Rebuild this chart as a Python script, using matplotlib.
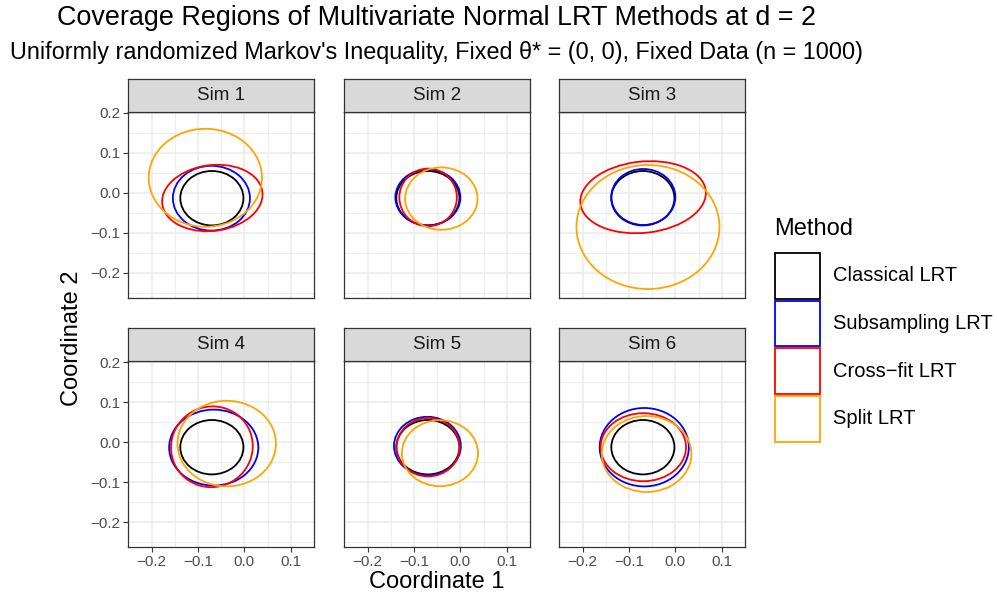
import numpy as np
import matplotlib
matplotlib.use("Agg")
import matplotlib.pyplot as plt
from matplotlib.patches import Ellipse, Rectangle

plt.rcParams['font.family'] = ['Liberation Sans', 'DejaVu Sans']

# data: ellipse (center x, center y, semi-axis a, semi-axis b, angle deg) per sim and method
methods = ["Classical LRT", "Subsampling LRT", "Cross\u2212fit LRT", "Split LRT"]
colors = ["black", "blue", "red", "orange"]
sims = ["Sim 1", "Sim 2", "Sim 3", "Sim 4", "Sim 5", "Sim 6"]

classical = [(-0.070, -0.013, 0.068, 0.068, 0)] * 6
subsampling = [(-0.071, -0.013, 0.083, 0.081, 0),
               (-0.070, -0.011, 0.070, 0.070, 0),
               (-0.069, -0.010, 0.069, 0.070, 0),
               (-0.066, -0.014, 0.096, 0.095, 0),
               (-0.071, -0.010, 0.072, 0.073, 0),
               (-0.067, -0.013, 0.096, 0.098, 0)]
crossfit = [(-0.069, -0.0125, 0.109, 0.082, 11),
            (-0.0695, -0.011, 0.062, 0.072, 0),
            (-0.0695, -0.0105, 0.136, 0.089, 8),
            (-0.070, -0.012, 0.088, 0.101, -4),
            (-0.0695, -0.013, 0.068, 0.073, 0),
            (-0.069, -0.013, 0.092, 0.085, 0)]
split = [(-0.084, 0.038, 0.122, 0.1225, 0),
         (-0.041, -0.014, 0.078, 0.078, 0),
         (-0.059, -0.085, 0.154, 0.155, 0),
         (-0.038, -0.004, 0.106, 0.107, 0),
         (-0.044, -0.028, 0.082, 0.0825, 0),
         (-0.062, -0.030, 0.0965, 0.095, 0)]
all_methods = [classical, subsampling, crossfit, split]

xticks = [-0.2, -0.1, 0.0, 0.1]
yticks = [-0.2, -0.1, 0.0, 0.1, 0.2]

W, H = 997, 599
fig = plt.figure(figsize=(W / 100, H / 100), dpi=100)


def box(l, t, r, b):
    return [l / W, 1 - b / H, (r - l) / W, (b - t) / H]


cols = [(128.3, 314.0), (344.3, 530.0), (559.3, 745.0)]
rows = [(112.0, 298.0, 78.5), (361.0, 547.0, 327.7)]
lab = lambda v: ("%.1f" % v).replace("-", "\u2212")

for i, s in enumerate(sims):
    r, c = divmod(i, 3)
    l, rr = cols[c]
    t, b, st = rows[r]
    ax = fig.add_axes(box(l, t, rr, b))
    ax.set_xlim(-0.248, 0.147)
    ax.set_ylim(-0.2625, 0.2025)
    ax.set_xticks(xticks)
    ax.set_yticks(yticks)
    ax.set_xticks([-0.25, -0.15, -0.05, 0.05, 0.15], minor=True)
    ax.set_yticks([-0.25, -0.15, -0.05, 0.05, 0.15], minor=True)
    ax.grid(True, which='major', color='#EBEBEB', lw=1.1)
    ax.grid(True, which='minor', color='#EBEBEB', lw=0.6)
    ax.set_axisbelow(True)
    ax.tick_params(which='minor', length=0)
    ax.tick_params(which='major', length=3.5, width=0.8, color='#333333',
                   labelsize=11, labelcolor='#4D4D4D', pad=2)
    if r == 1:
        ax.set_xticklabels([lab(v) for v in xticks])
    else:
        ax.set_xticklabels([])
        ax.tick_params(axis='x', length=0)
    if c == 0:
        ax.set_yticklabels([lab(v) for v in yticks])
    else:
        ax.set_yticklabels([])
        ax.tick_params(axis='y', length=0)
    for sp in ax.spines.values():
        sp.set_color('#333333')
        sp.set_linewidth(0.9)
    for m, col in zip(all_methods, colors):
        cx, cy, a, bb, ang = m[i]
        ax.add_patch(Ellipse((cx, cy), 2 * a, 2 * bb, angle=ang, fill=False,
                             edgecolor=col, lw=1.3))
    sax = fig.add_axes(box(l, st, rr, t))
    sax.set_facecolor('#D9D9D9')
    sax.set_xticks([])
    sax.set_yticks([])
    for sp in sax.spines.values():
        sp.set_color('#333333')
        sp.set_linewidth(0.9)
    sax.text(0.5, 0.5, s, ha='center', va='center', fontsize=13.6,
             color='#1A1A1A', transform=sax.transAxes)

fig.text(436.5 / W, 1 - 18 / H, "Coverage Regions of Multivariate Normal LRT Methods at d = 2",
         ha='center', va='center', fontsize=19.4)
fig.text(436.5 / W, 1 - 52 / H, "Uniformly randomized Markov's Inequality, Fixed \u03b8* = (0, 0), Fixed Data (n = 1000)",
         ha='center', va='center', fontsize=16.8)
fig.text(436.5 / W, 1 - 582 / H, "Coordinate 1", ha='center', va='center', fontsize=17)
fig.text(72 / W, 1 - 338 / H, "Coordinate 2", ha='center', va='center',
         rotation=90, fontsize=17)

# legend
lax = fig.add_axes([0, 0, 1, 1])
lax.set_xlim(0, W)
lax.set_ylim(H, 0)
lax.axis('off')
lax.text(774, 229, "Method", ha='left', va='center', fontsize=17)
key_top = 251.7
key_h = 47.8
for k, (m, col) in enumerate(zip(methods, colors)):
    y0 = key_top + k * key_h
    lax.add_patch(Rectangle((775, y0 + 1), 45, key_h - 2, fill=False,
                            edgecolor=col, lw=1.3))
    lax.text(833, y0 + key_h / 2, m, ha='left', va='center', fontsize=14.5)

fig.savefig("out.png", dpi=100)
